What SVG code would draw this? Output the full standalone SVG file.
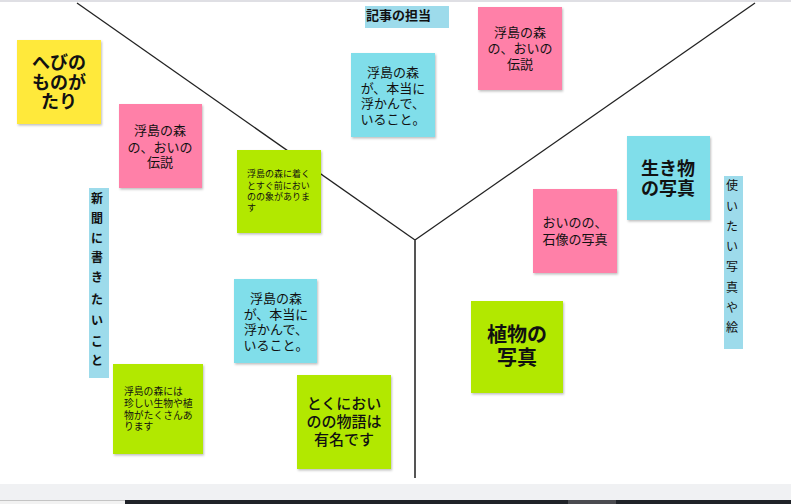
<svg xmlns="http://www.w3.org/2000/svg" width="791" height="504" viewBox="0 0 791 504">
<defs>
<filter id="sh" x="-10%" y="-10%" width="125%" height="125%">
<feDropShadow dx="1" dy="1.5" stdDeviation="1" flood-color="#000" flood-opacity="0.25"/>
</filter>
</defs>
<style>
text{font-family:"Noto Sans CJK JP","Noto Sans CJK SC",sans-serif;fill:#111;}
.c{text-anchor:middle;}
.s9{font-size:9px;}
.s10{font-size:9.8px;}
.s12{font-size:12px;}
.s13{font-size:13px;}
.s15{font-size:15px;}
.s18{font-size:18px;}
.s20{font-size:20px;}
.b{font-weight:bold;}
.m{font-weight:500;}
.yel{fill:#FFE93B;}
.pink{fill:#FF80A8;}
.grn{fill:#B2E800;}
.cyan{fill:#80DEEA;}
.lbl{fill:#9DDBEB;}
.note{filter:url(#sh);}
.ln{stroke:#222;stroke-width:1.3;fill:none;}
</style>
<rect x="0" y="0" width="791" height="504" fill="#fff"/>
<rect x="0" y="0" width="791" height="2" fill="#dfdfe4"/>

<g id="connectors">
<line class="ln" x1="77" y1="3" x2="415" y2="240"/>
<line class="ln" x1="415" y1="240" x2="755" y2="3"/>
<line x1="415" y1="240" x2="415" y2="478" stroke="#555" stroke-width="2"/>
</g>

<g id="note-hebi">
<rect class="yel note" x="17" y="40" width="84" height="84"/>
<text class="c s18 b"><tspan x="59" y="69">へびの</tspan><tspan x="59" y="89">ものが</tspan><tspan x="59" y="108">たり</tspan></text>
</g>

<g id="note-densetsu-left">
<rect class="pink note" x="119" y="104" width="83" height="84"/>
<text class="c s13"><tspan x="160" y="135">浮島の森</tspan><tspan x="160" y="152">の、おいの</tspan><tspan x="160" y="167">伝説</tspan></text>
</g>

<g id="note-tsuku">
<rect class="grn note" x="237" y="150" width="84" height="83"/>
<text class="s9"><tspan x="247" y="177">浮島の森に着く</tspan><tspan x="247" y="189">とすぐ前におい</tspan><tspan x="247" y="200">のの象がありま</tspan><tspan x="247" y="211">す</tspan></text>
</g>

<g id="label-shinbun">
<rect class="lbl" x="89" y="188" width="20" height="190"/>
<text class="c s12 b"><tspan x="97" y="203">新</tspan><tspan x="97" y="223">聞</tspan><tspan x="97" y="243">に</tspan><tspan x="97" y="262">書</tspan><tspan x="97" y="282">き</tspan><tspan x="97" y="304">た</tspan><tspan x="97" y="325">い</tspan><tspan x="97" y="346">こ</tspan><tspan x="97" y="365">と</tspan></text>
</g>

<g id="label-kiji">
<rect class="lbl" x="365" y="6" width="84" height="22"/>
<text class="s13 b" x="366" y="20">記事の担当</text>
</g>

<g id="note-ukabu-top">
<rect class="cyan note" x="351" y="53" width="84" height="84"/>
<text class="c s13"><tspan x="393" y="77">浮島の森</tspan><tspan x="393" y="93">が、本当に</tspan><tspan x="393" y="108">浮かんで、</tspan><tspan x="393" y="124">いること。</tspan></text>
</g>

<g id="note-densetsu-right">
<rect class="pink note" x="478" y="7" width="84" height="83"/>
<text class="c s13"><tspan x="520" y="37">浮島の森</tspan><tspan x="520" y="53">の、おいの</tspan><tspan x="520" y="69">伝説</tspan></text>
</g>

<g id="note-ikimono">
<rect class="cyan note" x="627" y="136" width="83" height="84"/>
<text class="c s18 b"><tspan x="668" y="175">生き物</tspan><tspan x="668" y="195">の写真</tspan></text>
</g>

<g id="note-sekizou">
<rect class="pink note" x="533" y="189" width="84" height="84"/>
<text class="c s13"><tspan x="575" y="227">おいのの、</tspan><tspan x="575" y="244">石像の写真</tspan></text>
</g>

<g id="label-tsukaitai">
<rect class="lbl" x="724" y="176" width="19" height="173"/>
<text class="c s12"><tspan x="732" y="190">使</tspan><tspan x="732" y="211">い</tspan><tspan x="732" y="231">た</tspan><tspan x="732" y="251">い</tspan><tspan x="732" y="271">写</tspan><tspan x="732" y="292">真</tspan><tspan x="732" y="312">や</tspan><tspan x="732" y="332">絵</tspan></text>
</g>

<g id="note-ukabu-bottom">
<rect class="cyan note" x="234" y="279" width="83" height="84"/>
<text class="c s13"><tspan x="276" y="303">浮島の森</tspan><tspan x="276" y="319">が、本当に</tspan><tspan x="276" y="334">浮かんで、</tspan><tspan x="276" y="350">いること。</tspan></text>
</g>

<g id="note-mezurashii">
<rect class="grn note" x="113" y="364" width="90" height="90"/>
<text class="s10"><tspan x="124" y="395">浮島の森には</tspan><tspan x="124" y="407">珍しい生物や植</tspan><tspan x="124" y="419">物がたくさんあ</tspan><tspan x="124" y="430">ります</tspan></text>
</g>

<g id="note-monogatari">
<rect class="grn note" x="297" y="375" width="94" height="94"/>
<text class="c s15 m"><tspan x="344" y="409">とくにおい</tspan><tspan x="344" y="427">のの物語は</tspan><tspan x="344" y="445">有名です</tspan></text>
</g>

<g id="note-shokubutsu">
<rect class="grn note" x="471" y="301" width="92" height="92"/>
<text class="c s20 b"><tspan x="517" y="342">植物の</tspan><tspan x="517" y="365">写真</tspan></text>
</g>

<rect x="0" y="484" width="791" height="16" fill="#f0f1f3"/>
<rect x="0" y="500" width="125" height="4" fill="#f2f2f2"/>
<rect x="0" y="500" width="125" height="1" fill="#c4c4c4"/>
<rect x="125" y="500" width="666" height="4" fill="#1f2228"/>
<rect x="568" y="500" width="48" height="4" fill="#4a4b50"/>
</svg>
